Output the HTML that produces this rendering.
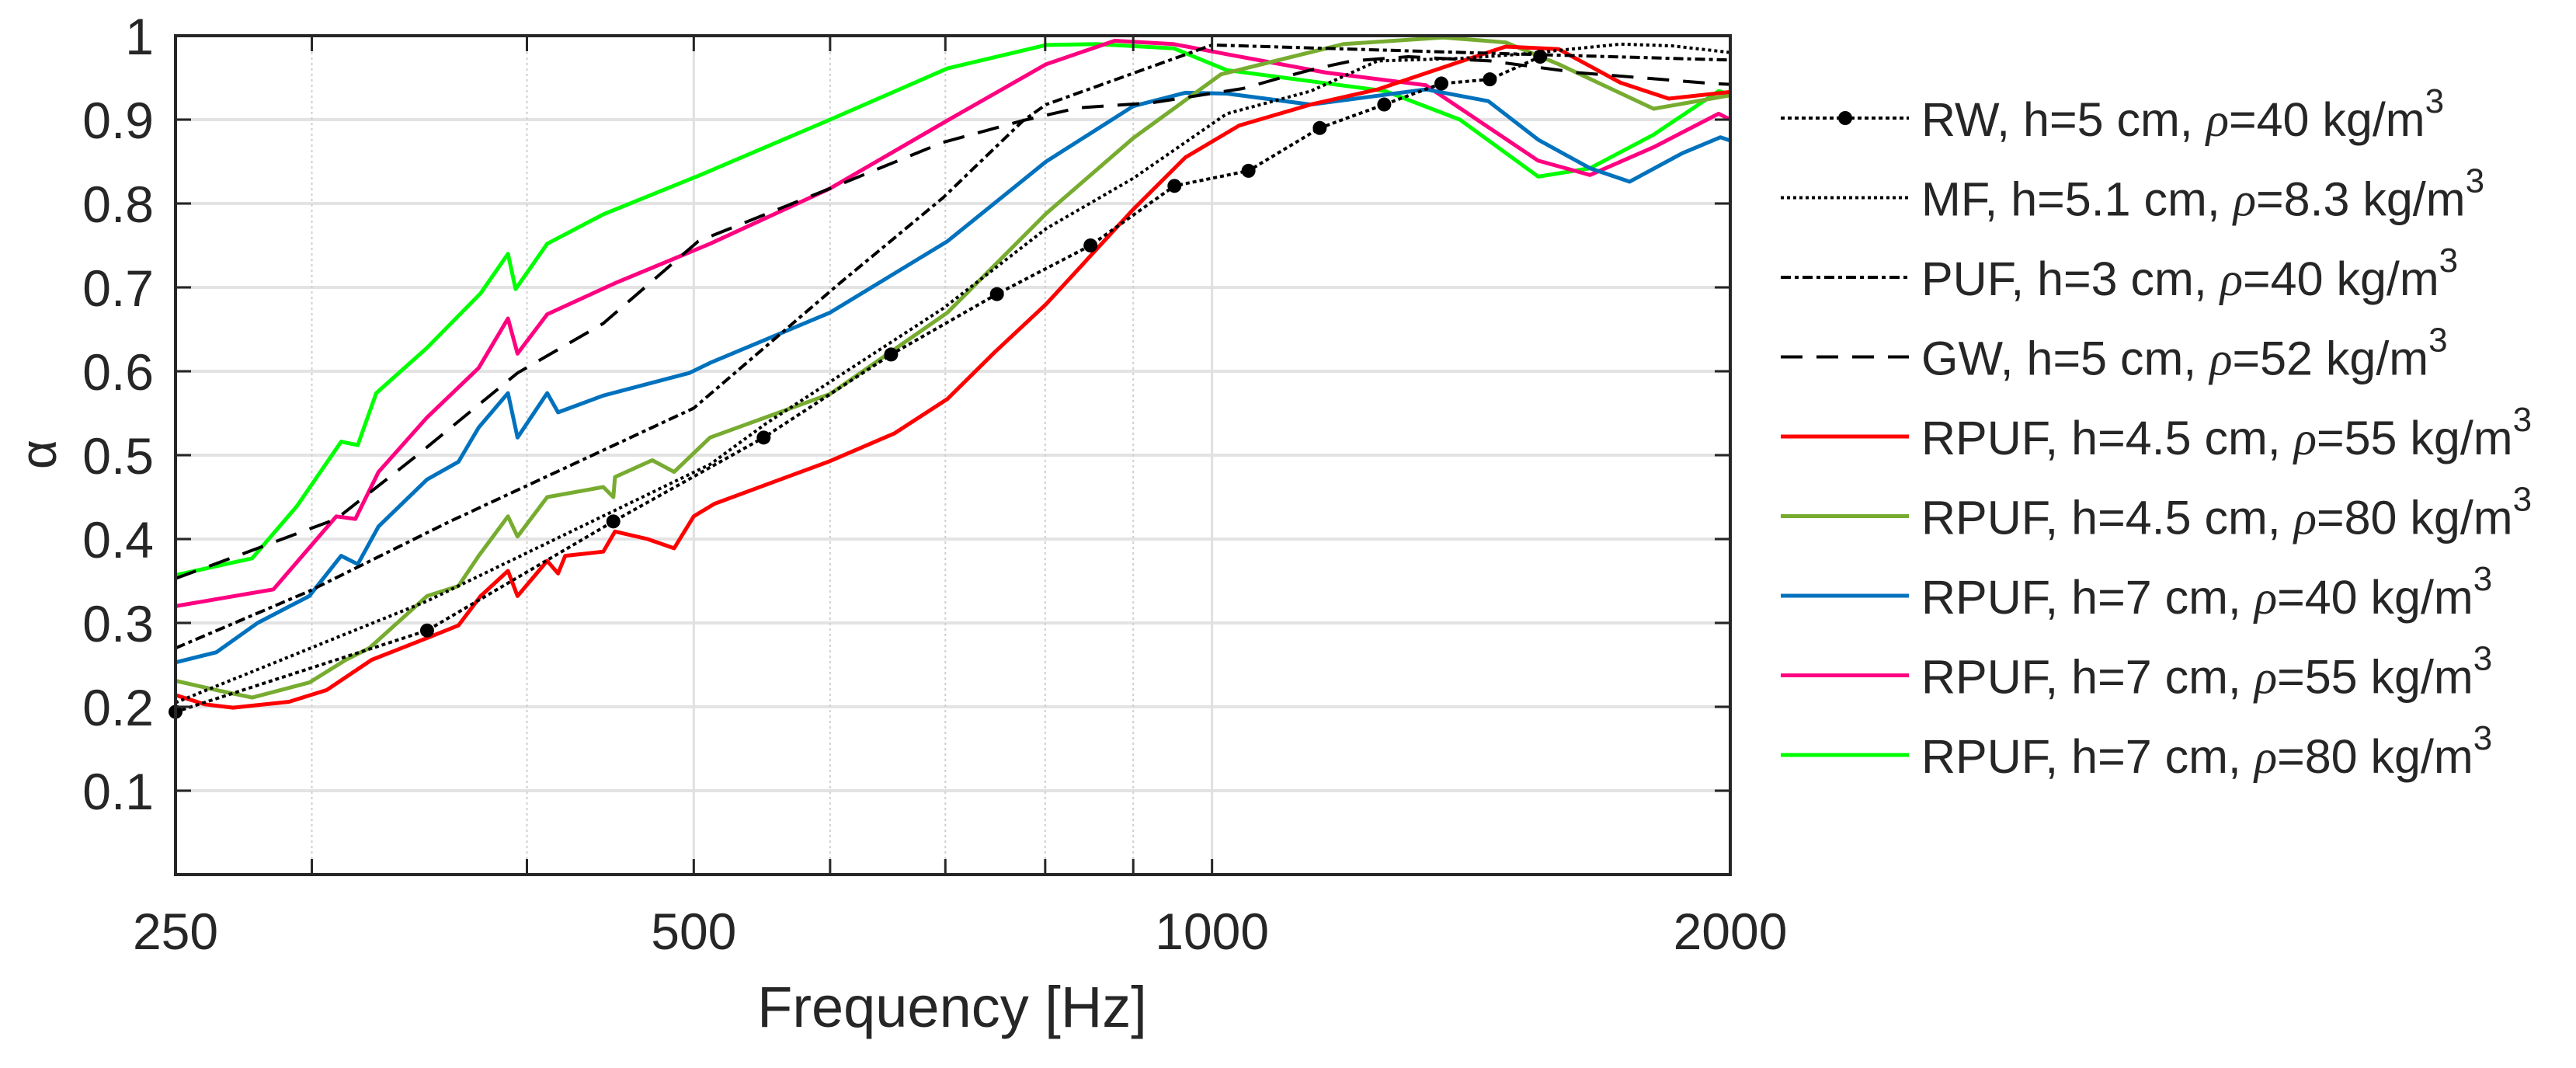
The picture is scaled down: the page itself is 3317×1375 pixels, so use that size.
<!DOCTYPE html>
<html><head><meta charset="utf-8">
<style>
html,body{margin:0;padding:0;background:#fff;}
svg{display:block;}
text{font-family:"Liberation Sans",Arial,sans-serif;fill:#262626;}
</style></head>
<body>
<svg id="chart" width="3317" height="1375" viewBox="0 0 3317 1375" xmlns="http://www.w3.org/2000/svg">
<g id="grid"></g>
<g id="series"></g>
<g id="axes"></g>
<g id="legend"></g>
</svg>
<script>
// ---- data ----
const xTicks = [250, 500, 1000, 2000];
const xMinor = [300, 400, 600, 700, 800, 900];
const yTicks = [0.1, 0.2, 0.3, 0.4, 0.5, 0.6, 0.7, 0.8, 0.9, 1];
const yTickLabels = ["0.1","0.2","0.3","0.4","0.5","0.6","0.7","0.8","0.9","1"];

const rwF = [250,350,449,549,651,750,850,951,1050,1155,1259,1359,1450,1551];
const rwA = [0.194,0.291,0.421,0.521,0.62,0.692,0.75,0.821,0.839,0.89,0.918,0.943,0.948,0.975];

const mfF = [250,350,511,551,698,801,900,1020,1141,1248,1393,1511,1727,1850,2000];
const mfA = [0.205,0.326,0.489,0.538,0.675,0.77,0.83,0.907,0.934,0.97,0.973,0.978,0.99,0.988,0.98];

const pufF = [250,299,360,500,607,698,777,801,1000,1400,2000];
const pufA = [0.27,0.338,0.42,0.556,0.704,0.807,0.899,0.918,0.989,0.98,0.971];

const gwF = [250,274,310,344,395,443,503,600,698,777,836,922,1042,1097,1150,1206,1300,1450,1550,1630,1773,1955,2000];
const gwA = [0.353,0.383,0.424,0.497,0.598,0.657,0.755,0.818,0.873,0.899,0.914,0.92,0.937,0.95,0.961,0.97,0.975,0.97,0.962,0.956,0.95,0.943,0.942];

const r455F = [250,260,270,291,306,325,350,365,376,390,395,411,417,421,443,450,470,487,500,514,600,654,702,748,801,900,965,1037,1141,1248,1393,1481,1590,1727,1842,2000];
const r455A = [0.214,0.203,0.199,0.206,0.22,0.256,0.282,0.297,0.332,0.362,0.332,0.374,0.359,0.38,0.385,0.409,0.40,0.389,0.427,0.442,0.493,0.526,0.567,0.623,0.68,0.793,0.855,0.893,0.918,0.936,0.969,0.987,0.984,0.944,0.925,0.933];

const r480F = [250,264,277,299,314,324,350,365,375,390,395,411,443,449,450,473,487,511,600,702,801,900,1012,1192,1362,1481,1590,1805,2000];
const r480A = [0.231,0.22,0.211,0.229,0.256,0.27,0.332,0.344,0.38,0.427,0.403,0.45,0.462,0.45,0.474,0.494,0.48,0.521,0.573,0.67,0.788,0.878,0.954,0.99,0.998,0.992,0.966,0.913,0.929];

const r740F = [250,264,279,299,312,319,328,350,365,375,390,395,411,417,443,497,511,600,702,801,900,965,1020,1141,1331,1447,1547,1658,1748,1876,1974,2000];
const r740A = [0.253,0.265,0.30,0.332,0.38,0.37,0.415,0.471,0.492,0.533,0.574,0.521,0.574,0.551,0.571,0.598,0.61,0.67,0.755,0.85,0.916,0.932,0.931,0.918,0.936,0.922,0.876,0.842,0.826,0.86,0.879,0.875];

const r755F = [250,285,310,318,328,350,375,390,395,411,450,511,600,702,801,878,950,1020,1165,1331,1547,1658,1805,1969,2000];
const r755A = [0.32,0.34,0.427,0.424,0.48,0.545,0.604,0.663,0.621,0.668,0.705,0.752,0.818,0.899,0.966,0.994,0.99,0.978,0.956,0.941,0.851,0.834,0.867,0.907,0.90];

const r780F = [250,277,294,312,319,327,350,376,390,394,411,443,503,600,702,801,857,950,1020,1261,1393,1547,1658,1805,1969,2000];
const r780A = [0.357,0.377,0.439,0.516,0.512,0.574,0.628,0.693,0.74,0.698,0.752,0.787,0.833,0.90,0.961,0.989,0.99,0.985,0.959,0.934,0.90,0.832,0.842,0.882,0.934,0.93];

// ---- layout ----
const L=226, R=2228, T=46, B=1126;
const NS="http://www.w3.org/2000/svg";
function xs(f){return L+(Math.log2(f/250)/3)*(R-L);}
function ys(a){return B-a*(B-T);}
function mk(tag, attrs, parent){const e=document.createElementNS(NS,tag);for(const k in attrs)e.setAttribute(k,attrs[k]);parent.appendChild(e);return e;}
const grid=document.getElementById('grid'), ser=document.getElementById('series'), axes=document.getElementById('axes'), leg=document.getElementById('legend');

yTicks.forEach((v,i)=>{
  const l=mk('line',{x1:L,x2:R,y1:ys(v),y2:ys(v),stroke:'#e3e3e3','stroke-width':4},grid);
  
  
});
xMinor.forEach(f=>{
  const l=mk('line',{x1:xs(f),x2:xs(f),y1:T,y2:B,stroke:'#cfcfcf','stroke-width':2,'stroke-dasharray':'3 4'},grid);
  
  
});
xTicks.slice(1,3).forEach(f=>{
  const l=mk('line',{x1:xs(f),x2:xs(f),y1:T,y2:B,stroke:'#e0e0e0','stroke-width':3},grid);
  
  
});

const seriesDefs=[
 {f:rwF,a:rwA,c:'#000',w:4,d:'5 4',name:'series-rw',marker:true},
 {f:mfF,a:mfA,c:'#000',w:4,d:'4 4',name:'series-mf'},
 {f:pufF,a:pufA,c:'#000',w:4,d:'13 5 5 5',name:'series-puf'},
 {f:gwF,a:gwA,c:'#000',w:4,d:'28 18',name:'series-gw'},
 {f:r455F,a:r455A,c:'#ff0000',w:5,name:'series-rpuf-4-5cm-55'},
 {f:r480F,a:r480A,c:'#77ac30',w:5,name:'series-rpuf-4-5cm-80'},
 {f:r740F,a:r740A,c:'#0072bd',w:5,name:'series-rpuf-7cm-40'},
 {f:r755F,a:r755A,c:'#ff0080',w:5,name:'series-rpuf-7cm-55'},
 {f:r780F,a:r780A,c:'#00ff00',w:5,name:'series-rpuf-7cm-80'}
];
seriesDefs.slice().reverse().forEach(s=>{
  const pts=s.f.map((f,i)=>xs(f).toFixed(1)+','+ys(s.a[i]).toFixed(1)).join(' ');
  const attrs={points:pts,fill:'none',stroke:s.c,'stroke-width':s.w,'stroke-linejoin':'round'};
  if(s.d)attrs['stroke-dasharray']=s.d;
  const p=mk('polyline',attrs,ser);
  
  
  if(s.marker){
    s.f.forEach((f,i)=>{
      const c=mk('circle',{cx:xs(f),cy:ys(s.a[i]),r:9,fill:'#000'},ser);
      
      
    });
  }
});

[[L,T,R,T],[L,B,R,B],[L,T,L,B],[R,T,R,B]].forEach(c=>{
  const l=mk('line',{x1:c[0],y1:c[1],x2:c[2],y2:c[3],stroke:'#262626','stroke-width':4,'stroke-linecap':'square'},axes);
  
  
});
yTicks.forEach((v,i)=>{
  const y=ys(v);
  const t1=mk('line',{x1:L,x2:L+20,y1:y,y2:y,stroke:'#262626','stroke-width':3},axes);
  
  
  const t2=mk('line',{x1:R-20,x2:R,y1:y,y2:y,stroke:'#262626','stroke-width':3},axes);
  
  
  const tx=mk('text',{x:198,y:y+24,'text-anchor':'end','font-size':66},axes);
  tx.textContent=yTickLabels[i];
  
  
});
xTicks.concat(xMinor).forEach(f=>{
  const x=xs(f);
  const t1=mk('line',{x1:x,x2:x,y1:B,y2:B-20,stroke:'#262626','stroke-width':3},axes);
  
  
  const t2=mk('line',{x1:x,x2:x,y1:T,y2:T+20,stroke:'#262626','stroke-width':3},axes);
  
  
});
xTicks.forEach(f=>{
  const tx=mk('text',{x:xs(f),y:1222,'text-anchor':'middle','font-size':66},axes);
  tx.textContent=String(f);
  
  
});
const xl=mk('text',{x:1226,y:1322,'text-anchor':'middle','font-size':74},axes);
xl.textContent='Frequency [Hz]';


const yl=mk('text',{x:0,y:0,'text-anchor':'middle','font-size':66,'font-family':'"Liberation Serif",serif',transform:'translate(72,585) rotate(-90)'},axes);
yl.textContent='α';



const legLabels=[
 ['RW, h=5 cm, ','=40 kg/m'],
 ['MF, h=5.1 cm, ','=8.3 kg/m'],
 ['PUF, h=3 cm, ','=40 kg/m'],
 ['GW, h=5 cm, ','=52 kg/m'],
 ['RPUF, h=4.5 cm, ','=55 kg/m'],
 ['RPUF, h=4.5 cm, ','=80 kg/m'],
 ['RPUF, h=7 cm, ','=40 kg/m'],
 ['RPUF, h=7 cm, ','=55 kg/m'],
 ['RPUF, h=7 cm, ','=80 kg/m']
];
seriesDefs.forEach((s,i)=>{
  const y=152+i*102.5;
  const g=mk('g',{},leg);
  
  
  const la={x1:2293,x2:2458,y1:y,y2:y,stroke:s.c,'stroke-width':s.w};
  if(s.d)la['stroke-dasharray']=s.d;
  const l=mk('line',la,g);
  
  
  if(s.marker){
    const c=mk('circle',{cx:2376,cy:y,r:9,fill:'#000'},g);
    
    
  }
  const t=mk('text',{x:2474,y:y+23,'font-size':61},g);
  
  
  const a=mk('tspan',{},t);a.textContent=legLabels[i][0];
  const r=mk('tspan',{'font-style':'italic','font-family':'"Liberation Serif",serif'},t);r.textContent='ρ';
  const b=mk('tspan',{},t);b.textContent=legLabels[i][1];
  const sup=mk('tspan',{dy:-30,'font-size':44},t);sup.textContent='3';
});
</script>
</body></html>
